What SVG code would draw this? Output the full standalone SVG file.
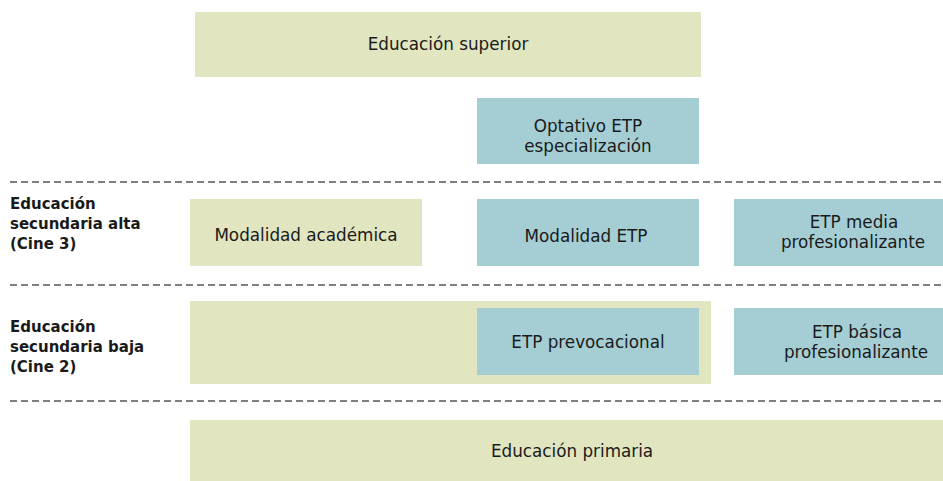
<svg xmlns="http://www.w3.org/2000/svg" width="943" height="481" viewBox="0 0 943 481">
<style>
.g{fill:#E1E6C0}
.b{fill:#A5CED4}
.t{font-family:"DejaVu Sans","Open Sans",sans-serif;font-size:16.8px;fill:#1a1a1a;text-anchor:middle}
.l{font-family:"DejaVu Sans","Open Sans",sans-serif;font-size:15px;font-weight:bold;fill:#1a1a1a}
.d{stroke:#7f7f7f;stroke-width:2;stroke-dasharray:7 4;fill:none}
</style>
<rect width="943" height="481" fill="#ffffff"/>
<g id="connectors">
<line class="d" x1="10" y1="182" x2="943" y2="182"/>
<line class="d" x1="10" y1="285" x2="943" y2="285"/>
<line class="d" x1="10" y1="401" x2="943" y2="401"/>
</g>
<g id="label-alta">
<text class="l" x="10" y="209">Educación<tspan x="10" dy="20">secundaria alta</tspan><tspan x="10" dy="20">(Cine 3)</tspan></text>
</g>
<g id="label-baja">
<text class="l" x="10" y="332">Educación<tspan x="10" dy="20">secundaria baja</tspan><tspan x="10" dy="20">(Cine 2)</tspan></text>
</g>
<g id="superior">
<rect class="g" x="195" y="12" width="506" height="65"/>
<text class="t" x="448" y="50">Educación superior</text>
</g>
<g id="optativo">
<rect class="b" x="477" y="98" width="222" height="66"/>
<text class="t" x="588" y="132">Optativo ETP<tspan x="588" dy="20">especialización</tspan></text>
</g>
<g id="academica">
<rect class="g" x="190" y="199" width="232" height="67"/>
<text class="t" x="306" y="241">Modalidad académica</text>
</g>
<g id="modalidad-etp">
<rect class="b" x="477" y="199" width="222" height="67"/>
<text class="t" x="586" y="242">Modalidad ETP</text>
</g>
<g id="etp-media">
<rect class="b" x="734" y="199" width="209" height="67"/>
<text class="t" x="854" y="228">ETP media<tspan x="853" dy="20">profesionalizante</tspan></text>
</g>
<g id="secundaria-baja">
<rect class="g" x="190" y="301" width="521" height="83"/>
</g>
<g id="prevocacional">
<rect class="b" x="477" y="308" width="222" height="67"/>
<text class="t" x="588" y="348">ETP prevocacional</text>
</g>
<g id="etp-basica">
<rect class="b" x="734" y="308" width="209" height="67"/>
<text class="t" x="857" y="338">ETP básica<tspan x="856" dy="20">profesionalizante</tspan></text>
</g>
<g id="primaria">
<rect class="g" x="190" y="420" width="753" height="61"/>
<text class="t" x="572" y="457">Educación primaria</text>
</g>
</svg>
